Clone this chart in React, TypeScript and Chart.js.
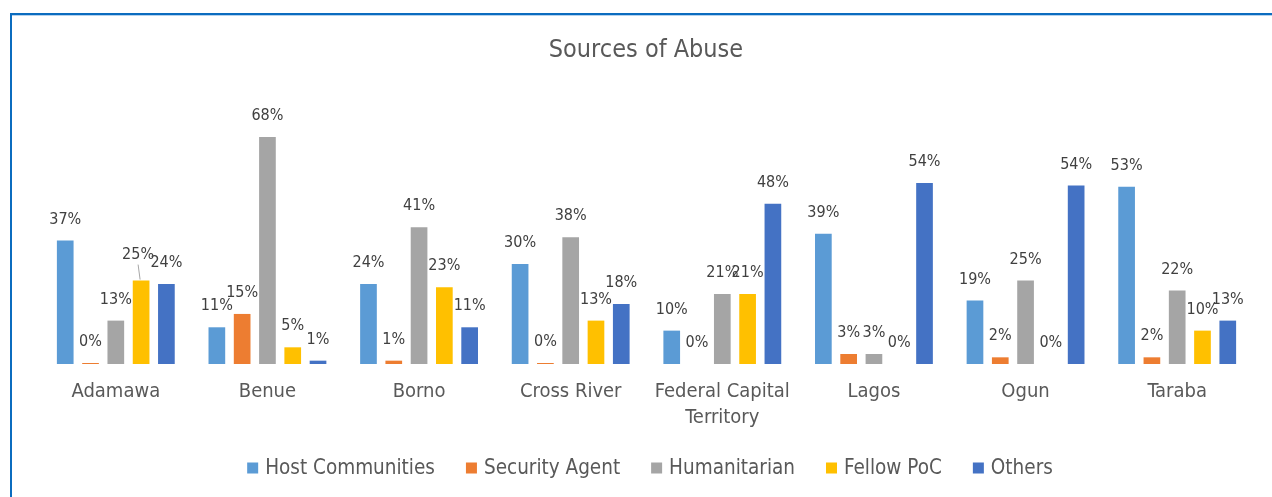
import React, { useEffect, useRef } from "react";
import { Chart, registerables } from "chart.js";

Chart.register(...registerables);

const FONT = "'DejaVu Sans Condensed', 'DejaVu Sans', sans-serif";

const title = "Sources of Abuse";
const categories = ["Adamawa", "Benue", "Borno", "Cross River", "Federal Capital Territory", "Lagos", "Ogun", "Taraba"];
const tickLabels = [["Adamawa"], ["Benue"], ["Borno"], ["Cross River"], ["Federal Capital", "Territory"], ["Lagos"], ["Ogun"], ["Taraba"]];
const seriesNames = ["Host Communities", "Security Agent", "Humanitarian", "Fellow PoC", "Others"];
const seriesColors = ["#5B9BD5", "#ED7D31", "#A5A5A5", "#FFC000", "#4472C4"];

const hostCommunities = [0.37, 0.11, 0.24, 0.30, 0.10, 0.39, 0.19, 0.531];
const securityAgent = [0.003, 0.15, 0.01, 0.003, 0.0, 0.03, 0.02, 0.02];
const humanitarian = [0.13, 0.68, 0.41, 0.38, 0.21, 0.03, 0.25, 0.22];
const fellowPoC = [0.25, 0.05, 0.23, 0.13, 0.21, 0.0, 0.0, 0.10];
const others = [0.24, 0.01, 0.11, 0.18, 0.48, 0.542, 0.535, 0.13];

const seriesValues = [hostCommunities, securityAgent, humanitarian, fellowPoC, others];

const overlayPlugin = {
  id: "overlay",
  afterDatasetsDraw(chart: any) {
    const ctx = chart.ctx;
    ctx.save();
    ctx.font = `16px ${FONT}`;
    ctx.fillStyle = "#404040";
    ctx.textAlign = "center";
    ctx.textBaseline = "middle";
    chart.data.datasets.forEach((ds: any, di: number) => {
      const meta = chart.getDatasetMeta(di);
      meta.data.forEach((bar: any, i: number) => {
        const v = ds.data[i] as number;
        const text = Math.round(v * 100) + "%";
        let x = bar.x;
        let y = bar.y - 21;
        if (di === 3 && i === 0) {
          // moved label with leader line (as in the reference)
          x = bar.x - 3;
          y = bar.y - 26;
          ctx.strokeStyle = "#A6A6A6";
          ctx.lineWidth = 1;
          ctx.beginPath();
          ctx.moveTo(bar.x - 1, bar.y - 1);
          ctx.lineTo(bar.x - 3, bar.y - 16);
          ctx.stroke();
        }
        ctx.fillText(text, x, y);
      });
    });
    ctx.restore();
  },
  afterDraw(chart: any) {
    const ctx = chart.ctx;
    ctx.save();
    // title
    ctx.font = `25px ${FONT}`;
    ctx.fillStyle = "#595959";
    ctx.textAlign = "center";
    ctx.textBaseline = "middle";
    ctx.fillText(title, 646, 50);
    // legend
    ctx.font = `20.5px ${FONT}`;
    ctx.textAlign = "left";
    const box = 11;
    const gapText = 7;
    const gapItem = 31;
    const widths = seriesNames.map((n) => box + gapText + ctx.measureText(n).width);
    const total = widths.reduce((a, b) => a + b, 0) + gapItem * (seriesNames.length - 1);
    let x = 650 - total / 2;
    const cy = 468;
    seriesNames.forEach((n, i) => {
      ctx.fillStyle = seriesColors[i];
      ctx.fillRect(x, cy - 5.5, box, box);
      ctx.fillStyle = "#595959";
      ctx.fillText(n, x + box + gapText, cy + 1);
      x += widths[i] + gapItem;
    });
    ctx.restore();
  },
};

export default function App() {
  const ref = useRef<HTMLCanvasElement | null>(null);
  useEffect(() => {
    document.body.style.overflow = "hidden";
    const canvas = ref.current!;
    const chart = new Chart(canvas, {
      type: "bar",
      data: {
        labels: tickLabels as any,
        datasets: seriesNames.map((name, i) => ({
          label: name,
          data: seriesValues[i],
          backgroundColor: seriesColors[i],
          borderWidth: 0,
          categoryPercentage: 0.834,
          barPercentage: 0.66,
        })),
      },
      options: {
        responsive: false,
        animation: false,
        devicePixelRatio: 1,
        layout: { padding: { left: 40, right: 19, top: 97, bottom: 69 } },
        plugins: {
          legend: { display: false },
          title: { display: false },
          tooltip: { enabled: false },
        },
        scales: {
          x: {
            grid: { display: false, drawTicks: false },
            border: { display: false },
            ticks: {
              color: "#595959",
              font: { family: FONT, size: 20, lineHeight: 1.3 },
              padding: 15,
              maxRotation: 0,
              autoSkip: false,
            },
            afterFit: (scale: any) => {
              scale.height = 64;
            },
          },
          y: {
            display: false,
            min: 0,
            max: 0.8,
          },
        },
      },
      plugins: [overlayPlugin],
    });
    return () => chart.destroy();
  }, []);

  return (
    <div style={{ position: "fixed", left: 0, top: 0, width: 1272, height: 497, background: "#fff", overflow: "hidden" }}>
      <div
        style={{
          position: "absolute",
          left: 10,
          top: 13,
          width: 1400,
          height: 600,
          borderTop: "2px solid #0B6CBF",
          borderLeft: "2px solid #0B6CBF",
          boxShadow: "inset 0 1px 0 #B4D2EE",
        }}
      />
      <canvas ref={ref} width={1272} height={497} style={{ position: "absolute", left: 0, top: 0, display: "block" }} />
    </div>
  );
}
